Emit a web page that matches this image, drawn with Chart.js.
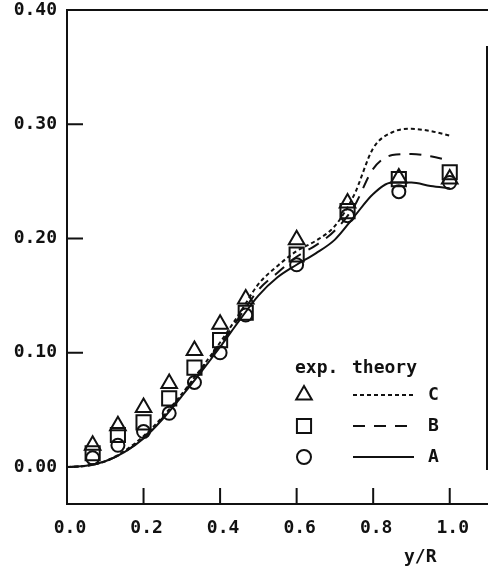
<!DOCTYPE html>
<html>
<head>
<meta charset="utf-8">
<script src="https://cdn.jsdelivr.net/npm/chart.js@4"></script>
<style>
  html, body { margin: 0; padding: 0; background: #fff; }
  #wrap { width: 488px; height: 572px; }
</style>
</head>
<body>
<div id="wrap"><canvas id="chart"></canvas></div>
<script>
// experimental points (y/R positions) and the three measured series
const xExp = [0.067, 0.133, 0.2, 0.267, 0.333, 0.4, 0.467, 0.6, 0.733, 0.867, 1.0];
const expC = [0.019, 0.036, 0.052, 0.073, 0.102, 0.125, 0.147, 0.199, 0.231, 0.253, 0.252];
const expB = [0.012, 0.028, 0.039, 0.060, 0.087, 0.111, 0.135, 0.186, 0.224, 0.252, 0.258];
const expA = [0.008, 0.019, 0.031, 0.047, 0.074, 0.100, 0.133, 0.177, 0.220, 0.241, 0.249];

// theory curves
const xTheory = [0, 0.05, 0.1, 0.15, 0.2, 0.25, 0.3, 0.35, 0.4, 0.45, 0.5, 0.55, 0.6, 0.65, 0.7, 0.75, 0.8, 0.85, 0.9, 0.95, 1.0];
const theoryA = [0, 0.001, 0.005, 0.013, 0.025, 0.042, 0.062, 0.083, 0.105, 0.128, 0.150, 0.166, 0.177, 0.187, 0.199, 0.219, 0.239, 0.249, 0.249, 0.246, 0.244];
const theoryB = [0, 0.001, 0.005, 0.013, 0.026, 0.043, 0.063, 0.085, 0.107, 0.131, 0.155, 0.170, 0.184, 0.194, 0.207, 0.228, 0.261, 0.273, 0.274, 0.272, 0.268];
const theoryC = [0, 0.001, 0.005, 0.014, 0.027, 0.044, 0.064, 0.086, 0.109, 0.134, 0.160, 0.176, 0.189, 0.198, 0.211, 0.238, 0.279, 0.293, 0.296, 0.294, 0.290];

const xTicks = [0.0, 0.2, 0.4, 0.6, 0.8, 1.0];
const yTicks = [0.0, 0.1, 0.2, 0.3, 0.4];
const xTitle = 'y/R';

const FONT = '"DejaVu Sans Mono", monospace';
const INK = '#111';

function pts(xs, ys) {
    return xs.map((x, i) => ({ x: x, y: ys[i] }));
}

function expSet(label, ys, style, r) {
    return {
        type: 'scatter', label: label, data: pts(xExp, ys),
        pointStyle: style, pointRadius: r, pointHoverRadius: r,
        pointBorderColor: INK, pointBackgroundColor: 'rgba(0,0,0,0)', pointBorderWidth: 2,
        showLine: false
    };
}

function theorySet(label, ys, dash) {
    return {
        type: 'line', label: label, data: pts(xTheory, ys),
        borderColor: INK, borderWidth: 2, borderDash: dash,
        pointRadius: 0, fill: false, cubicInterpolationMode: 'monotone'
    };
}

// frame, inward tick marks, axis title and the hand-made key
const decorPlugin = {
    id: 'decor',
    afterDraw(chart) {
        const ctx = chart.ctx;
        const a = chart.chartArea;
        const xs = chart.scales.x, ys = chart.scales.y;
        ctx.save();
        ctx.strokeStyle = INK;
        ctx.lineWidth = 2;
        ctx.setLineDash([]);
        ctx.beginPath();
        ctx.moveTo(a.left, a.top); ctx.lineTo(a.right, a.top);
        ctx.moveTo(a.right - 1, a.top + 36); ctx.lineTo(a.right - 1, a.bottom - 34);
        ctx.stroke();

        ctx.beginPath();
        xTicks.forEach(v => {
            if (v === 0) return;
            const px = xs.getPixelForValue(v);
            ctx.moveTo(px, a.bottom); ctx.lineTo(px, a.bottom - 16);
        });
        yTicks.forEach(v => {
            if (v === 0 || v === 0.4) return;
            const py = ys.getPixelForValue(v);
            ctx.moveTo(a.left, py); ctx.lineTo(a.left + 16, py);
        });
        ctx.stroke();

        ctx.fillStyle = INK;
        ctx.font = 'bold 18px ' + FONT;
        ctx.textBaseline = 'middle';
        ctx.textAlign = 'left';
        ctx.fillText(xTitle, 404, 557);

        // key
        ctx.fillText('exp.', 295, 368);
        ctx.fillText('theory', 352, 368);
        const rows = [
            { y: 395, style: 'triangle', r: 9, dash: [4, 3], name: 'C' },
            { y: 426, style: 'rect', r: 10, dash: [12, 9], name: 'B' },
            { y: 457, style: 'circle', r: 7, dash: [], name: 'A' }
        ];
        rows.forEach(row => {
            ctx.lineWidth = 2;
            ctx.setLineDash([]);
            ctx.fillStyle = 'rgba(0,0,0,0)';
            Chart.helpers.drawPoint(ctx, { pointStyle: row.style, radius: row.r, borderWidth: 2 }, 304, row.y);
            ctx.setLineDash(row.dash);
            ctx.beginPath();
            ctx.moveTo(353, row.y); ctx.lineTo(414, row.y);
            ctx.stroke();
            ctx.setLineDash([]);
            ctx.fillStyle = INK;
            ctx.fillText(row.name, 428, row.y);
        });
        ctx.restore();
    }
};

new Chart(document.getElementById('chart'), {
    data: {
        datasets: [
            theorySet('A', theoryA, []),
            theorySet('B', theoryB, [12, 9]),
            theorySet('C', theoryC, [4, 3]),
            expSet('exp. C', expC, 'triangle', 9),
            expSet('exp. B', expB, 'rect', 10),
            expSet('exp. A', expA, 'circle', 6.5)
        ]
    },
    options: {
        responsive: true,
        maintainAspectRatio: false,
        animation: false,
        layout: { autoPadding: false, padding: { top: 10, right: 0, left: 0, bottom: 0 } },
        plugins: { legend: { display: false }, tooltip: { enabled: false } },
        scales: {
            x: {
                type: 'linear', min: 0, max: 1.1,
                afterFit(s) { s.height = 68; s.paddingLeft = 0; s.paddingRight = 0; },
                afterBuildTicks(s) { s.ticks = xTicks.map(v => ({ value: v })); },
                grid: { display: false, drawTicks: false },
                border: { display: true, color: INK, width: 2 },
                ticks: {
                    color: INK, padding: 14, maxRotation: 0, labelOffset: 3,
                    font: { family: FONT, size: 18, weight: 'bold' },
                    callback: v => Number(v).toFixed(1)
                }
            },
            y: {
                type: 'linear', min: -0.0324, max: 0.40,
                afterFit(s) { s.width = 67; s.paddingTop = 0; s.paddingBottom = 0; },
                afterBuildTicks(s) { s.ticks = yTicks.map(v => ({ value: v })); },
                grid: { display: false, drawTicks: false },
                border: { display: true, color: INK, width: 2 },
                ticks: {
                    color: INK, padding: 10,
                    font: { family: FONT, size: 18, weight: 'bold' },
                    callback: v => Number(v).toFixed(2)
                }
            }
        }
    },
    plugins: [decorPlugin]
});
</script>
</body>
</html>
